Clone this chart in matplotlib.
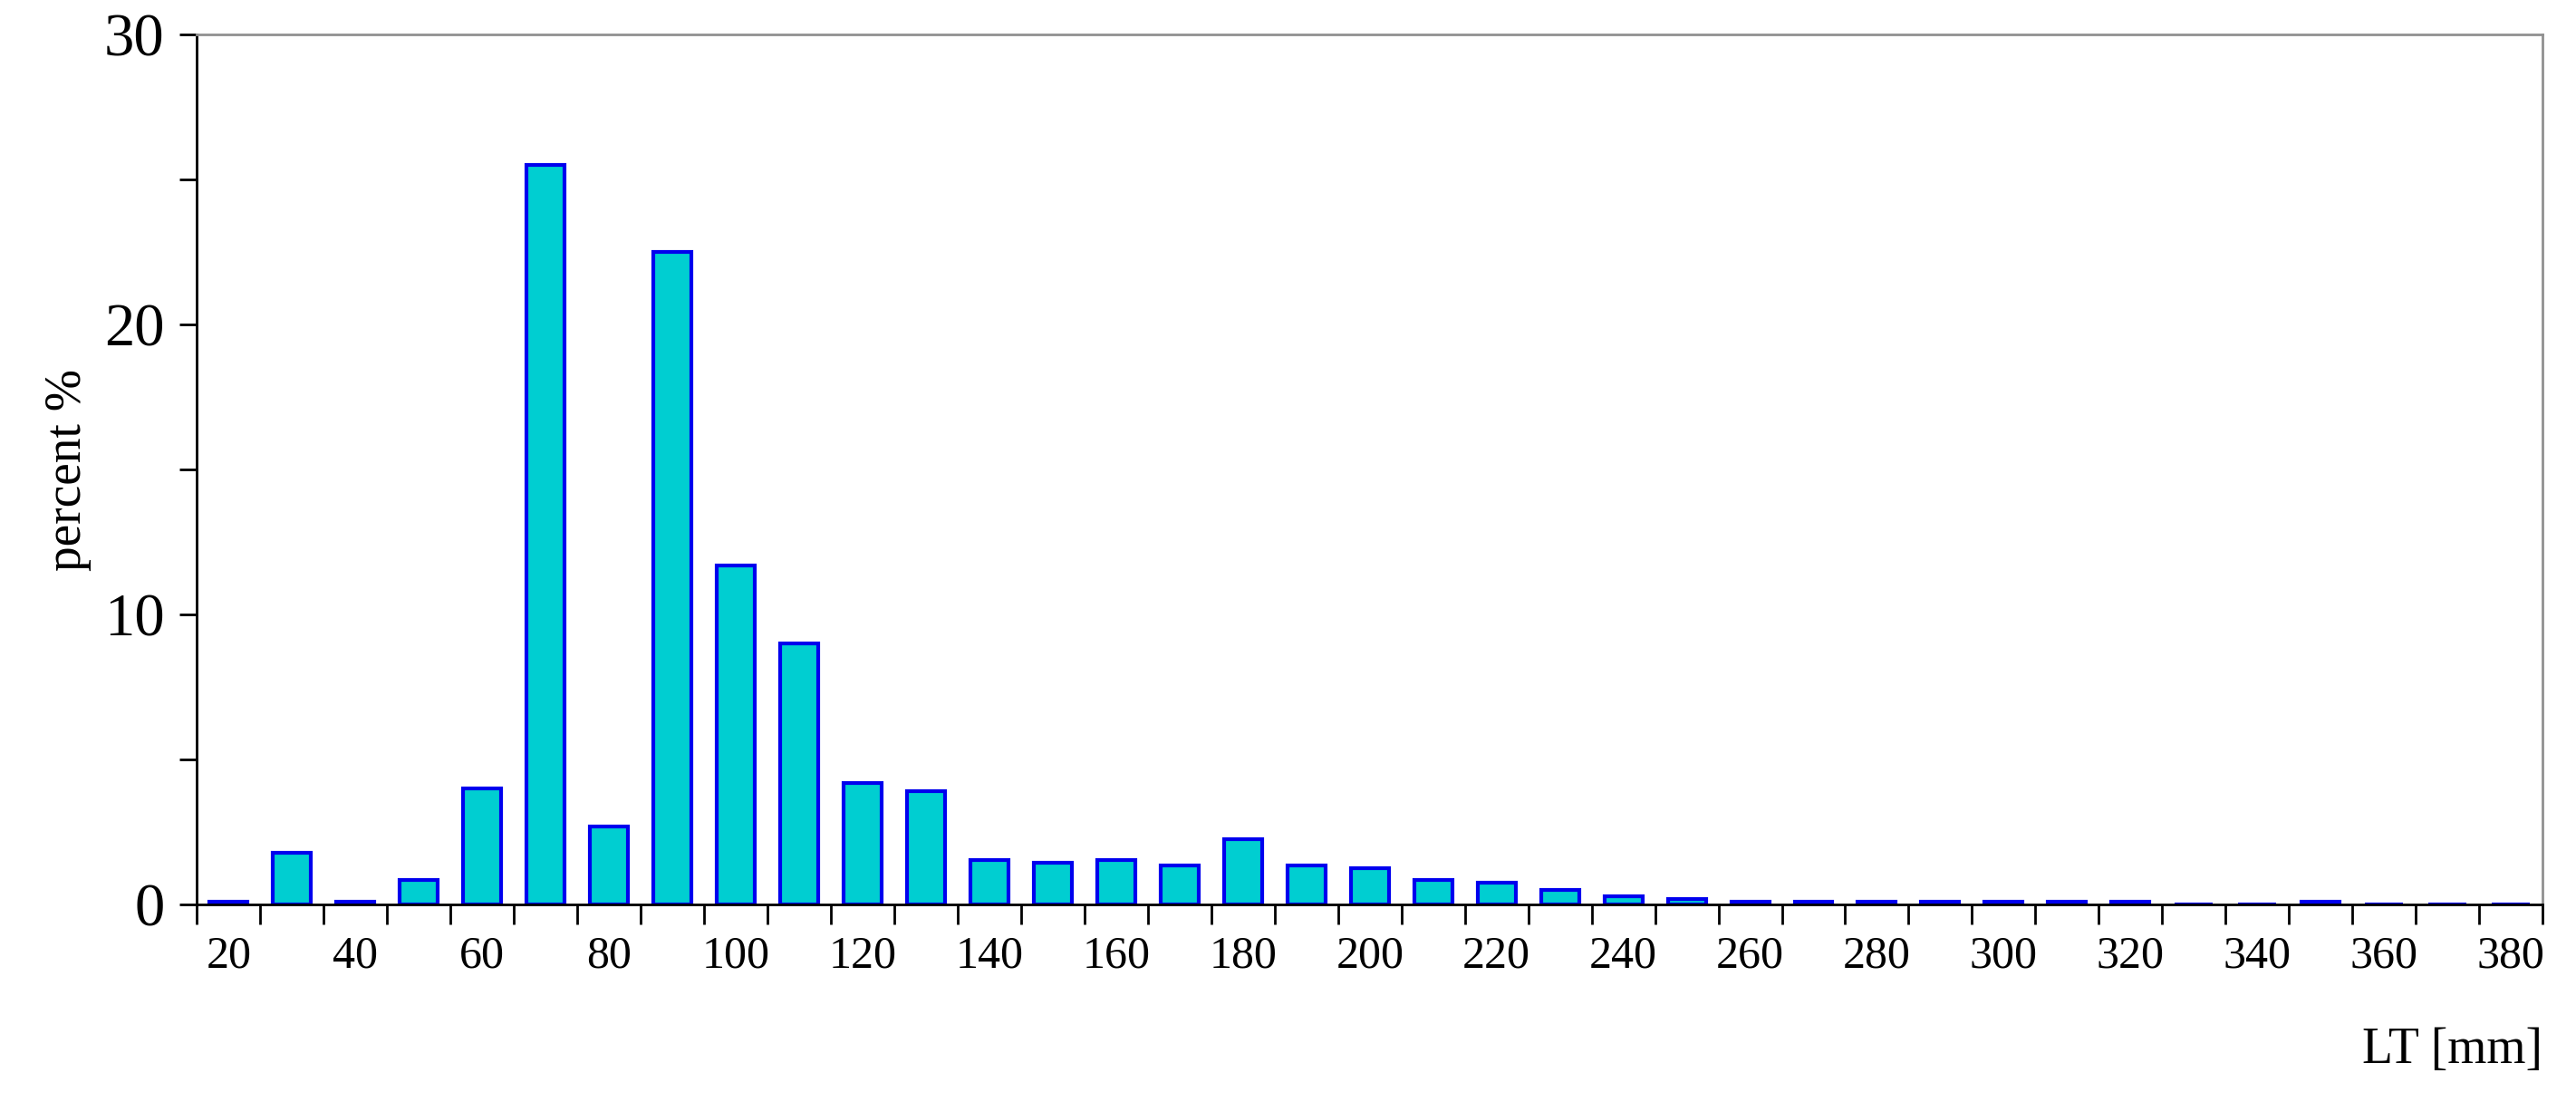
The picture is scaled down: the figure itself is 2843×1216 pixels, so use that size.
import matplotlib.pyplot as plt
import numpy as np

plt.rcParams['font.family'] = ['Liberation Serif', 'DejaVu Serif']

lengths = list(range(20, 390, 10))
percent = [0.1, 1.8, 0.1, 0.85, 4.0, 25.5, 2.7, 22.5, 11.7, 9.0,
           4.2, 3.9, 1.55, 1.45, 1.55, 1.35, 2.25, 1.35, 1.25, 0.85,
           0.75, 0.5, 0.3, 0.2, 0.1, 0.1, 0.1, 0.1, 0.1, 0.1,
           0.1, 0.0, 0.0, 0.1, 0.0, 0.0, 0.0]

fig = plt.figure(figsize=(28.43, 12.16), dpi=100)
ax = fig.add_axes([0.0765, 0.179, 0.9105, 0.79])

x = np.arange(len(lengths))
ax.bar(x, percent, width=0.6, color='#00CED1', edgecolor='#0000EE', linewidth=3)

ax.set_xlim(-0.5, len(lengths) - 0.5)
ax.set_ylim(0, 30)
ax.set_yticks([0, 10, 20, 30])
ax.set_yticks([5, 15, 25], minor=True)
ax.tick_params(axis='y', which='major', labelsize=48, length=14, width=2, pad=12)
ax.tick_params(axis='y', which='minor', length=14, width=2)

# ticks at slot boundaries, labels under every second bar
ax.set_xticks(np.arange(len(lengths) + 1) - 0.5)
ax.set_xticklabels([])
ax.set_xticks(x[::2], minor=True)
ax.set_xticklabels([str(v) for v in lengths[::2]], minor=True)
ax.tick_params(axis='x', which='major', length=16, width=2)
ax.tick_params(axis='x', which='minor', length=0, labelsize=36, pad=24)

for s in ['top', 'right']:
    ax.spines[s].set_color('#909090')
for s in ax.spines.values():
    s.set_linewidth(2)

ax.set_ylabel('percent %', fontsize=40, labelpad=10)
ax.text(1.0, -0.14, 'LT [mm]', transform=ax.transAxes, ha='right', va='top', fontsize=40)

fig.savefig('out.png')
